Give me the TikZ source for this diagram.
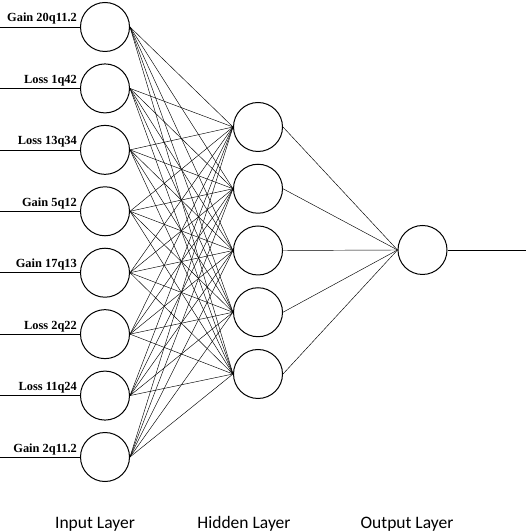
\documentclass[tikz,border=0pt]{standalone}
\usepackage{fontspec}
\setmainfont{Liberation Serif}
\newfontfamily\layerfont{Carlito}
\begin{document}
\begin{tikzpicture}[x=1pt, y=1pt, color=black,
  neuron/.style={circle, draw, line width=1pt, minimum size=49pt, inner sep=0pt},
  link/.style={line width=0.45pt},
  inlabel/.style={font=\fontsize{12.4}{14}\selectfont\bfseries, anchor=base east, inner sep=0pt},
  layer/.style={font=\layerfont\fontsize{17.5}{20}\selectfont}]
  \useasboundingbox (0,0) rectangle (526,532);
  % Input layer with its labelled feed lines
  \foreach \i/\txt in {0/Gain 20q11.2, 1/Loss 1q42, 2/Loss 13q34, 3/Gain 5q12,
                       4/Gain 17q13, 5/Loss 2q22, 6/Loss 11q24, 7/Gain 2q11.2} {
    \node[neuron] (in\i) at (105, {505-61.43*\i}) {};
    \coordinate (src\i) at (0, {505-61.43*\i});
    \draw[link] (src\i) -- (in\i.west);
    \node[inlabel] (lab\i) at (77, {510-61.43*\i}) {\txt};
  }
  % Hidden layer
  \foreach \j in {0,...,4}
    \node[neuron] (hid\j) at (258, {405-61.75*\j}) {};
  % Output layer
  \node[neuron] (out) at (422.5, 282) {};
  \coordinate (sink) at (526, 282);
  % Connections
  \foreach \i in {0,...,7}
    \foreach \j in {0,...,4}
      \draw[link] (in\i.east) -- (hid\j.west);
  \foreach \j in {0,...,4}
    \draw[link] (hid\j.east) -- (out.west);
  \draw[link] (out.east) -- (sink);
  % Layer names
  \node[layer] (inname) at (95, 8) {Input Layer};
  \node[layer] (hidname) at (244, 8) {Hidden Layer};
  \node[layer] (outname) at (407, 8) {Output Layer};
\end{tikzpicture}
\end{document}
